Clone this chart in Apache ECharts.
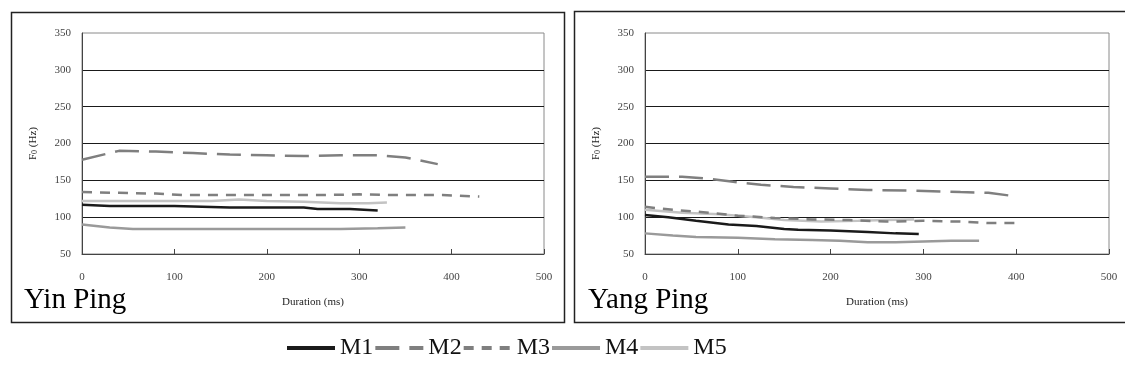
<!DOCTYPE html>
<html>
<head>
<meta charset="utf-8">
<script src="https://cdn.jsdelivr.net/npm/echarts@6/dist/echarts.min.js"></script>
<style>
html,body{margin:0;padding:0;background:#fff;}
#c{width:1125px;height:382px;}
</style>
</head>
<body>
<div id="c"></div>
<script>
// Data: [duration ms, F0 Hz]
const seriesNames = ['M1', 'M2', 'M3', 'M4', 'M5'];
const panelTitles = ['Yin Ping', 'Yang Ping'];
const xTicks = [0, 100, 200, 300, 400, 500];
const yTicks = [50, 100, 150, 200, 250, 300, 350];

const yinM1 = [[0,117],[30,115],[60,115],[100,115],[130,114],[160,113],[200,113],[240,113],[255,111],[290,111],[320,109]];
const yinM2 = [[0,178],[40,190],[80,189],[120,187],[160,185],[200,184],[240,183],[280,184],[320,184],[350,181],[385,172]];
const yinM3 = [[0,134],[40,133],[80,132],[110,130],[160,130],[210,130],[260,130],[300,131],[340,130],[390,130],[430,128]];
const yinM4 = [[0,90],[30,86],[55,84],[100,84],[150,84],[200,84],[250,84],[280,84],[320,85],[350,86]];
const yinM5 = [[0,122],[50,122],[100,122],[140,122],[170,124],[200,122],[240,121],[280,119],[310,119],[330,120]];

const yangM1 = [[0,103],[25,100],[55,95],[90,90],[120,88],[150,84],[165,83],[200,82],[240,80],[270,78],[295,77]];
const yangM2 = [[0,155],[40,155],[70,152],[95,148],[125,144],[160,141],[200,139],[240,137],[290,136],[340,134],[370,133],[395,129]];
const yangM3 = [[0,114],[30,110],[60,107],[100,102],[140,99],[180,97],[220,96],[260,94],[300,95],[340,94],[370,92],[400,92]];
const yangM4 = [[0,78],[30,75],[55,73],[100,72],[140,70],[180,69],[210,68],[240,66],[270,66],[300,67],[330,68],[360,68]];
const yangM5 = [[0,110],[40,106],[80,104],[120,100],[150,96],[190,94],[230,95],[260,96],[290,97]];

const panels = [
  [yinM1, yinM2, yinM3, yinM4, yinM5],
  [yangM1, yangM2, yangM3, yangM4, yangM5]
];

const styles = [
  {color:'#1a1a1a', type:'solid'},
  {color:'#7f7f7f', type:[24,10]},
  {color:'#7f7f7f', type:[10,8]},
  {color:'#9a9a9a', type:'solid'},
  {color:'#c3c3c3', type:'solid'}
];

const FONT = '"Liberation Serif", "Times New Roman", serif';

const grids = [
  {left:82, top:33, width:462, height:221},
  {left:645, top:33, width:464, height:221}
];

const xAxes = grids.map((g,i)=>({
  type:'value', gridIndex:i, min:xTicks[0], max:xTicks[xTicks.length-1], interval:100,
  name:'Duration (ms)', nameLocation:'middle', nameGap:43,
  nameTextStyle:{fontFamily:FONT, fontSize:11, color:'#222'},
  axisLine:{show:true, lineStyle:{color:'#444', width:1}},
  axisTick:{show:true, inside:true, length:5, lineStyle:{color:'#444'}},
  axisLabel:{fontFamily:FONT, fontSize:11, color:'#444', margin:18},
  splitLine:{show:false}
}));

const yAxes = grids.map((g,i)=>({
  type:'value', gridIndex:i, min:yTicks[0], max:yTicks[yTicks.length-1], interval:50,
  name:'F{s|0} (Hz)', nameLocation:'middle', nameGap:43,
  nameTextStyle:{fontFamily:FONT, fontSize:11, color:'#222', rich:{s:{fontFamily:FONT, fontSize:8, color:'#222', verticalAlign:'bottom', padding:[4,0,0,0]}}},
  axisLine:{show:true, lineStyle:{color:'#444', width:1}},
  axisTick:{show:false},
  axisLabel:{fontFamily:FONT, fontSize:11, color:'#444', margin:11},
  splitLine:{show:true, showMaxLine:false, showMinLine:false, lineStyle:{color:'#1a1a1a', width:1}}
}));

const series = [];
panels.forEach((pdata, pi)=>{
  pdata.forEach((d, si)=>{
    series.push({
      name: seriesNames[si], type:'line', xAxisIndex:pi, yAxisIndex:pi,
      data:d, symbol:'none', smooth:false, animation:false,
      lineStyle:{color:styles[si].color, type:styles[si].type, width:2.5},
      itemStyle:{color:styles[si].color},
      z: 5 - si
    });
  });
});

const chart = echarts.init(document.getElementById('c'), null, {renderer:'canvas'});
chart.setOption({
  animation:false,
  grid: grids.map(g=>Object.assign({show:true, borderColor:'#8a8a8a', borderWidth:1, backgroundColor:'transparent'}, g)),
  xAxis: xAxes,
  yAxis: yAxes,
  legend:{
    data: seriesNames, left:280, top:331, itemWidth:48, itemHeight:14, itemGap:0,
    lineStyle:{width:4},
    itemStyle:{opacity:0},
    textStyle:{fontFamily:FONT, fontSize:24, color:'#111'}
  },
  graphic:[
    {type:'rect', shape:{x:11.5, y:12.5, width:553, height:310}, style:{fill:'none', stroke:'#222', lineWidth:1.5}, silent:true},
    {type:'rect', shape:{x:574.5, y:11.5, width:560, height:311}, style:{fill:'none', stroke:'#222', lineWidth:1.5}, silent:true},
    {type:'text', left:24, top:286, style:{text:panelTitles[0], font:'29px ' + FONT, fill:'#000'}},
    {type:'text', left:588, top:286, style:{text:panelTitles[1], font:'29px ' + FONT, fill:'#000'}}
  ],
  series: series
});
</script>
</body>
</html>
